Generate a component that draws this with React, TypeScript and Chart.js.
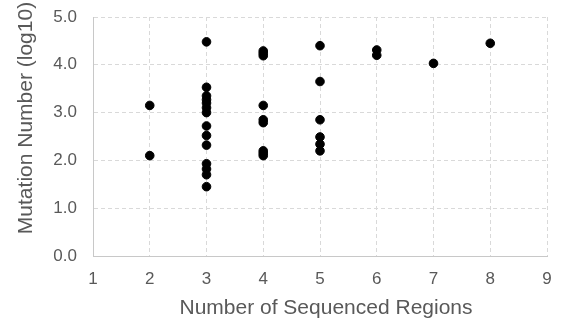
import React, { useEffect, useRef } from "react";
import { Chart, registerables } from "chart.js";

Chart.register(...registerables);

const regions2 = [3.15, 2.1];
const regions3 = [4.48, 3.53, 3.35, 3.27, 3.2, 3.1, 3.0, 2.72, 2.52, 2.32, 1.93, 1.82, 1.7, 1.45];
const regions4 = [4.29, 4.24, 4.19, 3.15, 2.85, 2.79, 2.2, 2.15, 2.1];
const regions5 = [4.4, 3.65, 2.85, 2.49, 2.34, 2.2];
const regions6 = [4.31, 4.2];
const regions7 = [4.03];
const regions8 = [4.45];

const groups: [number, number[]][] = [
  [2, regions2],
  [3, regions3],
  [4, regions4],
  [5, regions5],
  [6, regions6],
  [7, regions7],
  [8, regions8],
];

const xTitle = "Number of Sequenced Regions";
const yTitle = "Mutation Number (log10)";

export default function App() {
  const ref = useRef<HTMLCanvasElement | null>(null);
  useEffect(() => {
    if (!ref.current) return;
    const data = groups.flatMap(([x, ys]) => ys.map((y) => ({ x, y })));
    const font = "'Liberation Sans', Arial, sans-serif";
    const titles = {
      id: "titles",
      afterDraw: (c: any) => {
        const ctx = c.ctx;
        const area = c.chartArea;
        ctx.save();
        ctx.fillStyle = "#595959";
        ctx.font = `21px ${font}`;
        ctx.textAlign = "center";
        ctx.textBaseline = "middle";
        ctx.fillText(xTitle, (area.left + area.right) / 2 + 6, 308);
        ctx.translate(26, 118);
        ctx.rotate(-Math.PI / 2);
        ctx.fillText(yTitle, 0, 0);
        ctx.restore();
      },
    };
    const chart = new Chart(ref.current, {
      type: "scatter",
      data: {
        datasets: [
          {
            data,
            backgroundColor: "#000000",
            borderColor: "#000000",
            pointRadius: 4.3,
            pointHoverRadius: 4.3,
          },
        ],
      },
      options: {
        animation: false,
        responsive: false,
        maintainAspectRatio: false,
        layout: { padding: { top: 17, right: 17, left: 0, bottom: 0 } },
        plugins: { legend: { display: false }, tooltip: { enabled: false } },
        scales: {
          x: {
            type: "linear",
            min: 1,
            max: 9,
            ticks: {
              stepSize: 1,
              color: "#595959",
              font: { family: font, size: 17 },
              padding: 13,
            },
            grid: { color: "#d9d9d9", drawTicks: false },
            border: { display: true, color: "#c8c8c8", dash: [4, 3] },
            title: { display: false },
            afterFit: (s: any) => {
              s.height = 67;
              s.paddingLeft = 0;
              s.paddingRight = 0;
            },
          },
          y: {
            type: "linear",
            min: 0,
            max: 5,
            ticks: {
              stepSize: 1,
              color: "#595959",
              font: { family: font, size: 17 },
              padding: 16,
              callback: (v: any) => Number(v).toFixed(1),
            },
            grid: { color: "#d9d9d9", drawTicks: false },
            border: { display: true, color: "#c8c8c8", dash: [4, 3] },
            title: { display: false },
            afterFit: (s: any) => {
              s.width = 93;
              s.paddingTop = 0;
              s.paddingBottom = 0;
            },
          },
        },
      },
      plugins: [titles],
    } as any);
    return () => chart.destroy();
  }, []);
  return (
    <div style={{ position: "fixed", left: 0, top: 0, width: 564, height: 323, background: "#fff" }}>
      <canvas ref={ref} width={564} height={323} style={{ display: "block" }} />
    </div>
  );
}
